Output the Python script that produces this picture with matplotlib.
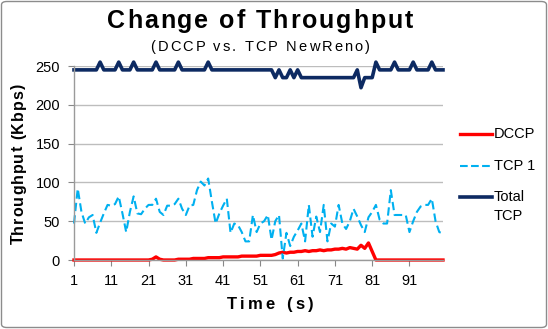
import numpy as np
import matplotlib
matplotlib.use('Agg')
import matplotlib.pyplot as plt
from matplotlib.patches import FancyBboxPatch
from matplotlib.lines import Line2D
from matplotlib.font_manager import FontProperties

# time axis (s)
time_s = list(range(1, 101))

dccp = [0] * 21 + [1, 4, 1, 0, 0, 0, 0, 1, 1, 1, 1, 2, 2, 2, 2, 3, 3, 3, 3,
        4, 4, 4, 4, 4, 5, 5, 5, 5, 5, 6, 6, 6, 6, 7, 9, 10, 9, 10, 10,
        11, 11, 12, 11, 12, 12, 13, 12, 13, 13, 14, 14, 15, 14, 16, 15,
        14, 19, 15, 22, 11] + [0] * 19

tcp1 = [47, 92, 62, 47, 55, 58, 35, 48, 60, 71,
        70, 72, 82, 60, 36, 62, 82, 60, 59, 66,
        71, 71, 79, 62, 58, 70, 70, 72, 79, 66,
        58, 70, 71, 90, 101, 96, 105, 75, 47, 60,
        70, 79, 35, 47, 45, 36, 24, 24, 58, 36,
        47, 50, 58, 26, 50, 58, 2, 35, 18, 30,
        38, 47, 24, 71, 30, 56, 36, 71, 24, 47,
        43, 71, 47, 40, 50, 66, 56, 45, 36, 55,
        62, 71, 52, 47, 47, 90, 58, 58, 58, 58,
        36, 50, 62, 69, 71, 71, 79, 50, 36, 34]

total_tcp = ([245] * 7 + [255] + [245] * 4 + [255] + [245] * 3 + [255]
             + [245] * 5 + [255] + [245] * 5 + [255] + [245] * 7 + [255]
             + [245] * 17
             + [235, 245, 235, 235, 245, 235, 245, 235]
             + [235] * 14
             + [245, 222, 235, 235, 235, 255]
             + [245] * 4 + [255] + [245] * 4 + [255] + [245] * 4 + [255]
             + [245] * 3)

y_ticks = [0, 50, 100, 150, 200, 250]
x_ticks = [1, 11, 21, 31, 41, 51, 61, 71, 81, 91]

W, H = 548, 329
FONT = 'Liberation Sans'
plt.rcParams['font.family'] = [FONT, 'DejaVu Sans']

fig = plt.figure(figsize=(W / 100, H / 100), dpi=100)
renderer = fig.canvas.get_renderer()


def spaced_text(s, cx, base, gap, size, weight='normal', vertical=False):
    """Draw s centred on cx (pixels) with extra letter spacing; base is the baseline."""
    fp = FontProperties(family=FONT, size=size, weight=weight)
    bar = renderer.get_text_width_height_descent('|', fp, ismath=False)[0]

    def width(t):
        return renderer.get_text_width_height_descent(t + '|', fp, ismath=False)[0] - bar

    full = renderer.get_text_width_height_descent(s, fp, ismath=False)[0]
    total = full + gap * (len(s) - 1)
    start = cx - total / 2
    for i, ch in enumerate(s):
        if ch == ' ':
            continue
        off = width(s[:i]) + gap * i if i else 0
        if vertical:
            # reads bottom to top, cx is a y position measured from the top
            fig.text(base / W, 1 - (cx + total / 2 - off) / H, ch, fontproperties=fp,
                     rotation=90, rotation_mode='anchor', ha='left', va='baseline')
        else:
            fig.text((start + off) / W, 1 - base / H, ch, fontproperties=fp,
                     ha='left', va='baseline')


ax = fig.add_axes([74 / W, 1 - 260 / H, (443 - 74) / W, (260 - 66) / H])

l_dccp, = ax.plot(time_s, dccp, color='#ff0000', lw=2.4, clip_on=False,
                  solid_joinstyle='round')
l_tcp1, = ax.plot(time_s, tcp1, color='#00b0f0', lw=1.5, ls=(0, (4, 2)),
                  clip_on=False)
l_total, = ax.plot(time_s, total_tcp, color='#0d2a62', lw=2.6, clip_on=False,
                   solid_joinstyle='round')

ax.set_xlim(1, 100)
ax.set_ylim(0, 250)
ax.set_yticks(y_ticks)
ax.set_xticks(x_ticks)
ax.tick_params(axis='both', labelsize=10.5, length=4, color='#888888',
               direction='out', pad=6)
ax.grid(True, axis='y', color='#bdbdbd', lw=1)
ax.set_axisbelow(True)
for side in ['top', 'right']:
    ax.spines[side].set_visible(False)
for side in ['left', 'bottom']:
    ax.spines[side].set_color('#9a9a9a')
    ax.spines[side].set_linewidth(1)

# titles and axis labels (letter spaced like the original)
spaced_text('Change of Throughput', 260, 28, 1.9, 18, 'bold')
spaced_text('(DCCP vs. TCP NewReno)', 260, 51, 2.1, 10.5)
spaced_text('Time (s)', 270, 309, 3.3, 12, 'bold')
spaced_text('Throughput (Kbps)', 164, 23, 1.0, 11.5, 'bold', vertical=True)

# legend
legend_items = [(l_dccp, 'DCCP', 134), (l_tcp1, 'TCP 1', 166), (l_total, 'Total', 197)]
for line, label, ypx in legend_items:
    fig.add_artist(Line2D([460 / W, 492 / W], [1 - ypx / H] * 2,
                          color=line.get_color(), lw=line.get_linewidth(),
                          ls=line.get_linestyle(), transform=fig.transFigure))
    fig.text(494 / W, 1 - ypx / H, label, fontsize=10.5, ha='left', va='center')
fig.text(494 / W, 1 - 216 / H, 'TCP', fontsize=10.5, ha='left', va='center')

border = FancyBboxPatch((1.5 / W, 1.5 / H), 545 / W, 326 / H,
                        boxstyle='round,pad=0,rounding_size=0.01',
                        transform=fig.transFigure, fill=False,
                        edgecolor='#8c8c8c', lw=1)
fig.add_artist(border)

fig.savefig('out.png', dpi=100)
